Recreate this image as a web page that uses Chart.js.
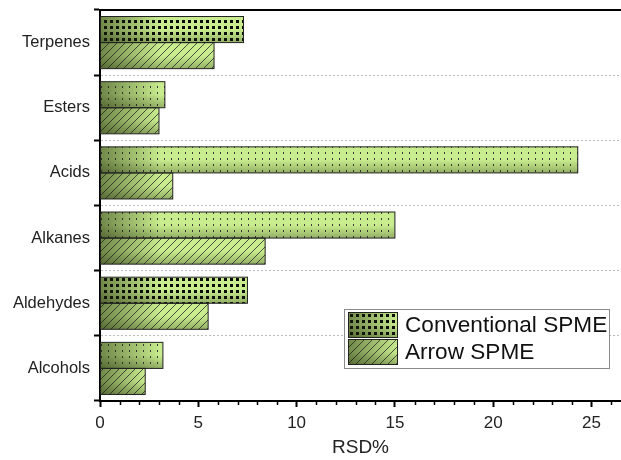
<!DOCTYPE html>
<html>
<head>
<meta charset="utf-8">
<script src="https://cdn.jsdelivr.net/npm/chart.js@4/dist/chart.umd.min.js"></script>
<style>
  html, body { margin: 0; padding: 0; background: #fff; }
  #wrap { width: 621px; height: 460px; }
</style>
</head>
<body>
<div id="wrap"><canvas id="chart" width="621" height="460"></canvas></div>
<script>
// data
const categories = ['Terpenes', 'Esters', 'Acids', 'Alkanes', 'Aldehydes', 'Alcohols'];
const conventionalSPME = [7.3, 3.3, 24.3, 15.0, 7.5, 3.2];
const arrowSPME = [5.8, 3.0, 3.7, 8.4, 5.5, 2.3];
const seriesLabels = ['Conventional SPME', 'Arrow SPME'];
const xTicks = [0, 5, 10, 15, 20, 25];

// styles
const FONT = "'Liberation Sans', Arial, sans-serif";
const BAR_GREEN = '#c8ec8e';
const denseDotRows = [0, 4]; // Terpenes + Aldehydes use the heavy dot fill

function makePattern(w, h, draw) {
  const c = document.createElement('canvas');
  c.width = w; c.height = h;
  const g = c.getContext('2d');
  g.fillStyle = BAR_GREEN;
  g.fillRect(0, 0, w, h);
  draw(g);
  return g.createPattern(c, 'repeat');
}

const denseDots = makePattern(6, 6, g => {
  g.fillStyle = '#0a0a0a';
  g.fillRect(2, 2, 3, 3);
});
const sparseDots = makePattern(7, 6, g => {
  g.fillStyle = '#3a3a3a';
  g.fillRect(3, 2, 1, 2);
});
const hatch = makePattern(8, 8, g => {
  g.strokeStyle = '#2a2a2a';
  g.lineWidth = 0.8;
  g.beginPath();
  g.moveTo(0, 8); g.lineTo(8, 0);
  g.moveTo(-1, 1); g.lineTo(1, -1);
  g.moveTo(7, 9); g.lineTo(9, 7);
  g.stroke();
});

// dark shading in the lower-left of each box, like the origin gradient fill
function shadeBox(ctx, left, top, w, h) {
  ctx.save();
  ctx.beginPath();
  ctx.rect(left, top, w, h);
  ctx.clip();
  const gx = ctx.createLinearGradient(left, 0, left + Math.min(w, 60), 0);
  gx.addColorStop(0, 'rgba(25,35,5,0.5)');
  gx.addColorStop(1, 'rgba(25,35,5,0)');
  ctx.fillStyle = gx;
  ctx.fillRect(left, top, w, h);
  const gy = ctx.createLinearGradient(0, top + h, 0, top);
  gy.addColorStop(0, 'rgba(25,35,5,0.3)');
  gy.addColorStop(0.5, 'rgba(25,35,5,0)');
  ctx.fillStyle = gy;
  ctx.fillRect(left, top, w, h);
  ctx.restore();
}

const barShading = {
  id: 'barShading',
  afterDatasetsDraw(chart) {
    const ctx = chart.ctx;
    chart.data.datasets.forEach((ds, i) => {
      chart.getDatasetMeta(i).data.forEach(bar => {
        const left = Math.min(bar.base, bar.x);
        const w = Math.abs(bar.x - bar.base);
        const top = bar.y - bar.height / 2;
        shadeBox(ctx, left, top, w, bar.height);
        ctx.strokeStyle = '#222';
        ctx.lineWidth = 1;
        ctx.strokeRect(left, top, w, bar.height);
      });
    });
  }
};

const frameAndTicks = {
  id: 'frameAndTicks',
  afterDraw(chart) {
    const {ctx, chartArea: {left, right, top, bottom}, scales: {x}} = chart;
    ctx.save();
    // top frame line
    ctx.strokeStyle = '#000';
    ctx.lineWidth = 2;
    ctx.beginPath();
    ctx.moveTo(left - 1, top);
    ctx.lineTo(right, top);
    ctx.stroke();
    // minor ticks every 1 unit
    ctx.lineWidth = 1.5;
    ctx.beginPath();
    for (let v = 1; v <= x.max; v++) {
      if (v % 5 === 0) continue;
      const px = Math.round(x.getPixelForValue(v)) + 0.5;
      ctx.moveTo(px, bottom);
      ctx.lineTo(px, bottom + 4);
    }
    ctx.stroke();
    ctx.restore();
  }
};

const boxLegend = {
  id: 'boxLegend',
  afterDraw(chart) {
    const ctx = chart.ctx;
    const bx = 344, by = 309, bw = 265, bh = 59;
    ctx.save();
    ctx.fillStyle = '#fff';
    ctx.fillRect(bx, by, bw, bh);
    ctx.strokeStyle = '#8a8a8a';
    ctx.lineWidth = 1;
    ctx.strokeRect(bx + 0.5, by + 0.5, bw, bh);
    const fills = [denseDots, hatch];
    seriesLabels.forEach((lab, i) => {
      const sx = 348, sy = 312 + i * 27, sw = 50, sh = 26;
      ctx.fillStyle = fills[i];
      ctx.fillRect(sx, sy, sw, sh);
      shadeBox(ctx, sx, sy, sw, sh);
      ctx.strokeStyle = '#222';
      ctx.strokeRect(sx + 0.5, sy + 0.5, sw - 1, sh - 1);
      ctx.fillStyle = '#111';
      ctx.font = '22.6px ' + FONT;
      ctx.textAlign = 'left';
      ctx.textBaseline = 'middle';
      ctx.fillText(lab, 405, sy + sh / 2 + 1);
    });
    ctx.restore();
  }
};

new Chart(document.getElementById('chart'), {
  type: 'bar',
  data: {
    labels: categories,
    datasets: [{
      label: seriesLabels[0],
      data: conventionalSPME,
      backgroundColor: c => denseDotRows.includes(c.dataIndex) ? denseDots : sparseDots,
      borderWidth: 0
    }, {
      label: seriesLabels[1],
      data: arrowSPME,
      backgroundColor: hatch,
      borderWidth: 0
    }]
  },
  options: {
    indexAxis: 'y',
    responsive: false,
    animation: false,
    categoryPercentage: 0.8,
    barPercentage: 1.0,
    layout: {padding: {top: 10, right: 0, left: 0, bottom: 0}},
    plugins: {
      legend: {display: false},
      title: {display: false},
      tooltip: {enabled: false}
    },
    scales: {
      x: {
        type: 'linear',
        min: 0,
        max: 26.5,
        afterFit: s => { s.height = 59; },
        afterBuildTicks: s => { s.ticks = xTicks.map(v => ({value: v})); },
        ticks: {
          color: '#222',
          font: {family: FONT, size: 17},
          padding: 6,
          maxRotation: 0
        },
        grid: {
          drawOnChartArea: false,
          tickLength: 6,
          tickWidth: 2,
          tickColor: '#000'
        },
        border: {display: true, color: '#000', width: 2},
        title: {
          display: true,
          text: 'RSD%',
          color: '#222',
          font: {family: FONT, size: 19},
          padding: {top: 4, bottom: 1}
        }
      },
      y: {
        type: 'category',
        offset: true,
        afterFit: s => { s.width = 100; s.paddingTop = 0; s.paddingBottom = 0; },
        ticks: {
          color: '#222',
          font: {family: FONT, size: 16.5},
          padding: 4
        },
        grid: {
          offset: true,
          color: c => (c.type === 'tick' && c.index > 0) ? '#bcbcbc' : 'rgba(0,0,0,0)',
          lineWidth: 1,
          tickLength: 6,
          tickWidth: 2,
          tickColor: '#000'
        },
        border: {display: true, color: '#000', width: 2, dash: [2, 2]}
      }
    }
  },
  plugins: [barShading, frameAndTicks, boxLegend]
});
</script>
</body>
</html>
